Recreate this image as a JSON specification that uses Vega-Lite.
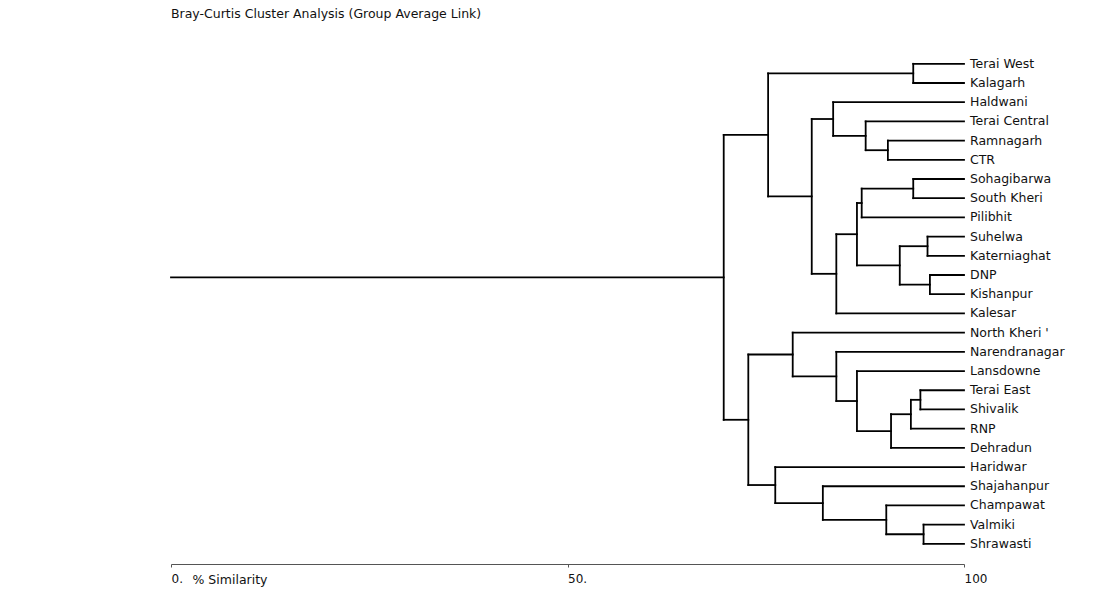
{
  "$schema": "https://vega.github.io/schema/vega-lite/v6.json",
  "width": 793,
  "height": 529,
  "padding": {"left": 169, "top": 7, "right": 5, "bottom": 5},
  "background": "white",
  "title": {
    "text": "Bray-Curtis Cluster Analysis (Group Average Link)",
    "anchor": "start",
    "frame": "group",
    "font": "DejaVu Sans",
    "fontSize": 12.5,
    "fontWeight": "normal",
    "color": "#111",
    "offset": 15
  },
  "config": {"view": {"stroke": null}},
  "data": {
    "values": [
      {"name": "Terai West", "leaf": true, "sim": 100, "parentSim": 93.6, "y": 0},
      {"name": "Kalagarh", "leaf": true, "sim": 100, "parentSim": 93.6, "y": 1},
      {"name": "Haldwani", "leaf": true, "sim": 100, "parentSim": 83.5, "y": 2},
      {"name": "Terai Central", "leaf": true, "sim": 100, "parentSim": 87.6, "y": 3},
      {"name": "Ramnagarh", "leaf": true, "sim": 100, "parentSim": 90.4, "y": 4},
      {"name": "CTR", "leaf": true, "sim": 100, "parentSim": 90.4, "y": 5},
      {"name": "Sohagibarwa", "leaf": true, "sim": 100, "parentSim": 93.6, "y": 6},
      {"name": "South Kheri", "leaf": true, "sim": 100, "parentSim": 93.6, "y": 7},
      {"name": "Pilibhit", "leaf": true, "sim": 100, "parentSim": 87.1, "y": 8},
      {"name": "Suhelwa", "leaf": true, "sim": 100, "parentSim": 95.4, "y": 9},
      {"name": "Katerniaghat", "leaf": true, "sim": 100, "parentSim": 95.4, "y": 10},
      {"name": "DNP", "leaf": true, "sim": 100, "parentSim": 95.7, "y": 11},
      {"name": "Kishanpur", "leaf": true, "sim": 100, "parentSim": 95.7, "y": 12},
      {"name": "Kalesar", "leaf": true, "sim": 100, "parentSim": 83.9, "y": 13},
      {"name": "North Kheri '", "leaf": true, "sim": 100, "parentSim": 78.4, "y": 14},
      {"name": "Narendranagar", "leaf": true, "sim": 100, "parentSim": 83.9, "y": 15},
      {"name": "Lansdowne", "leaf": true, "sim": 100, "parentSim": 86.5, "y": 16},
      {"name": "Terai East", "leaf": true, "sim": 100, "parentSim": 94.5, "y": 17},
      {"name": "Shivalik", "leaf": true, "sim": 100, "parentSim": 94.5, "y": 18},
      {"name": "RNP", "leaf": true, "sim": 100, "parentSim": 93.3, "y": 19},
      {"name": "Dehradun", "leaf": true, "sim": 100, "parentSim": 90.8, "y": 20},
      {"name": "Haridwar", "leaf": true, "sim": 100, "parentSim": 76.2, "y": 21},
      {"name": "Shajahanpur", "leaf": true, "sim": 100, "parentSim": 82.2, "y": 22},
      {"name": "Champawat", "leaf": true, "sim": 100, "parentSim": 90.2, "y": 23},
      {"name": "Valmiki", "leaf": true, "sim": 100, "parentSim": 94.9, "y": 24},
      {"name": "Shrawasti", "leaf": true, "sim": 100, "parentSim": 94.9, "y": 25},
      {"name": "A", "leaf": false, "sim": 93.6, "parentSim": 75.3, "y": 0.5, "lo": 0, "hi": 1},
      {"name": "B", "leaf": false, "sim": 90.4, "parentSim": 87.6, "y": 4.5, "lo": 4, "hi": 5},
      {"name": "C", "leaf": false, "sim": 87.6, "parentSim": 83.5, "y": 3.75, "lo": 3, "hi": 4.5},
      {"name": "D", "leaf": false, "sim": 83.5, "parentSim": 80.8, "y": 2.875, "lo": 2, "hi": 3.75},
      {"name": "E", "leaf": false, "sim": 93.6, "parentSim": 87.1, "y": 6.5, "lo": 6, "hi": 7},
      {"name": "F", "leaf": false, "sim": 87.1, "parentSim": 86.5, "y": 7.25, "lo": 6.5, "hi": 8},
      {"name": "G", "leaf": false, "sim": 95.4, "parentSim": 91.9, "y": 9.5, "lo": 9, "hi": 10},
      {"name": "H", "leaf": false, "sim": 95.7, "parentSim": 91.9, "y": 11.5, "lo": 11, "hi": 12},
      {"name": "I", "leaf": false, "sim": 91.9, "parentSim": 86.5, "y": 10.5, "lo": 9.5, "hi": 11.5},
      {"name": "J", "leaf": false, "sim": 86.5, "parentSim": 83.9, "y": 8.875, "lo": 7.25, "hi": 10.5},
      {"name": "K", "leaf": false, "sim": 83.9, "parentSim": 80.8, "y": 10.9375, "lo": 8.875, "hi": 13},
      {"name": "L", "leaf": false, "sim": 80.8, "parentSim": 75.3, "y": 6.90625, "lo": 2.875, "hi": 10.9375},
      {"name": "M", "leaf": false, "sim": 75.3, "parentSim": 69.7, "y": 3.703125, "lo": 0.5, "hi": 6.90625},
      {"name": "N", "leaf": false, "sim": 94.5, "parentSim": 93.3, "y": 17.5, "lo": 17, "hi": 18},
      {"name": "O", "leaf": false, "sim": 93.3, "parentSim": 90.8, "y": 18.25, "lo": 17.5, "hi": 19},
      {"name": "P", "leaf": false, "sim": 90.8, "parentSim": 86.5, "y": 19.125, "lo": 18.25, "hi": 20},
      {"name": "Q", "leaf": false, "sim": 86.5, "parentSim": 83.9, "y": 17.5625, "lo": 16, "hi": 19.125},
      {"name": "R", "leaf": false, "sim": 83.9, "parentSim": 78.4, "y": 16.28125, "lo": 15, "hi": 17.5625},
      {"name": "S", "leaf": false, "sim": 78.4, "parentSim": 72.8, "y": 15.140625, "lo": 14, "hi": 16.28125},
      {"name": "T", "leaf": false, "sim": 94.9, "parentSim": 90.2, "y": 24.5, "lo": 24, "hi": 25},
      {"name": "U", "leaf": false, "sim": 90.2, "parentSim": 82.2, "y": 23.75, "lo": 23, "hi": 24.5},
      {"name": "V", "leaf": false, "sim": 82.2, "parentSim": 76.2, "y": 22.875, "lo": 22, "hi": 23.75},
      {"name": "W", "leaf": false, "sim": 76.2, "parentSim": 72.8, "y": 21.9375, "lo": 21, "hi": 22.875},
      {"name": "X", "leaf": false, "sim": 72.8, "parentSim": 69.7, "y": 18.5390625, "lo": 15.140625, "hi": 21.9375},
      {"name": "Root", "leaf": false, "sim": 69.7, "parentSim": 0, "y": 11.12109375, "lo": 3.703125, "hi": 18.5390625}
    ]
  },
  "layer": [
    {
      "mark": {"type": "rule", "color": "#000", "strokeWidth": 1.8, "strokeCap": "square"},
      "encoding": {
        "x": {
          "field": "sim",
          "type": "quantitative",
          "scale": {"domain": [0, 100], "nice": false, "zero": false},
          "axis": {
            "values": [0, 50, 100],
            "labelExpr": "datum.value == 100 ? '100' : datum.value + '.'",
            "labelAlign": "left",
            "labelBaseline": "top",
            "labelFont": "DejaVu Sans",
            "labelFontSize": 12,
            "labelColor": "#111",
            "labelPadding": 6,
            "labelFlush": false,
            "tickSize": 3,
            "tickColor": "#555",
            "domainColor": "#555",
            "domainWidth": 1,
            "grid": false,
            "title": "% Similarity",
            "titleFont": "DejaVu Sans",
            "titleFontSize": 12.5,
            "titleFontWeight": "normal",
            "titleColor": "#111",
            "titleAlign": "left",
            "titleAnchor": "start",
            "titleBaseline": "top",
            "titleX": 21,
            "titleY": 9
          }
        },
        "x2": {"field": "parentSim"},
        "y": {
          "field": "y",
          "type": "quantitative",
          "scale": {"domain": [-1.5, 26.05], "reverse": true, "nice": false, "zero": false},
          "axis": null
        }
      }
    },
    {
      "transform": [{"filter": "datum.leaf == false"}],
      "mark": {"type": "rule", "color": "#000", "strokeWidth": 1.8, "strokeCap": "square"},
      "encoding": {
        "x": {"field": "sim", "type": "quantitative"},
        "y": {"field": "lo", "type": "quantitative"},
        "y2": {"field": "hi"}
      }
    },
    {
      "transform": [{"filter": "datum.leaf == true"}],
      "mark": {"type": "text", "align": "left", "baseline": "middle", "dx": 6, "font": "DejaVu Sans", "fontSize": 12.5, "color": "#111"},
      "encoding": {
        "x": {"field": "sim", "type": "quantitative"},
        "y": {"field": "y", "type": "quantitative"},
        "text": {"field": "name"}
      }
    }
  ]
}
